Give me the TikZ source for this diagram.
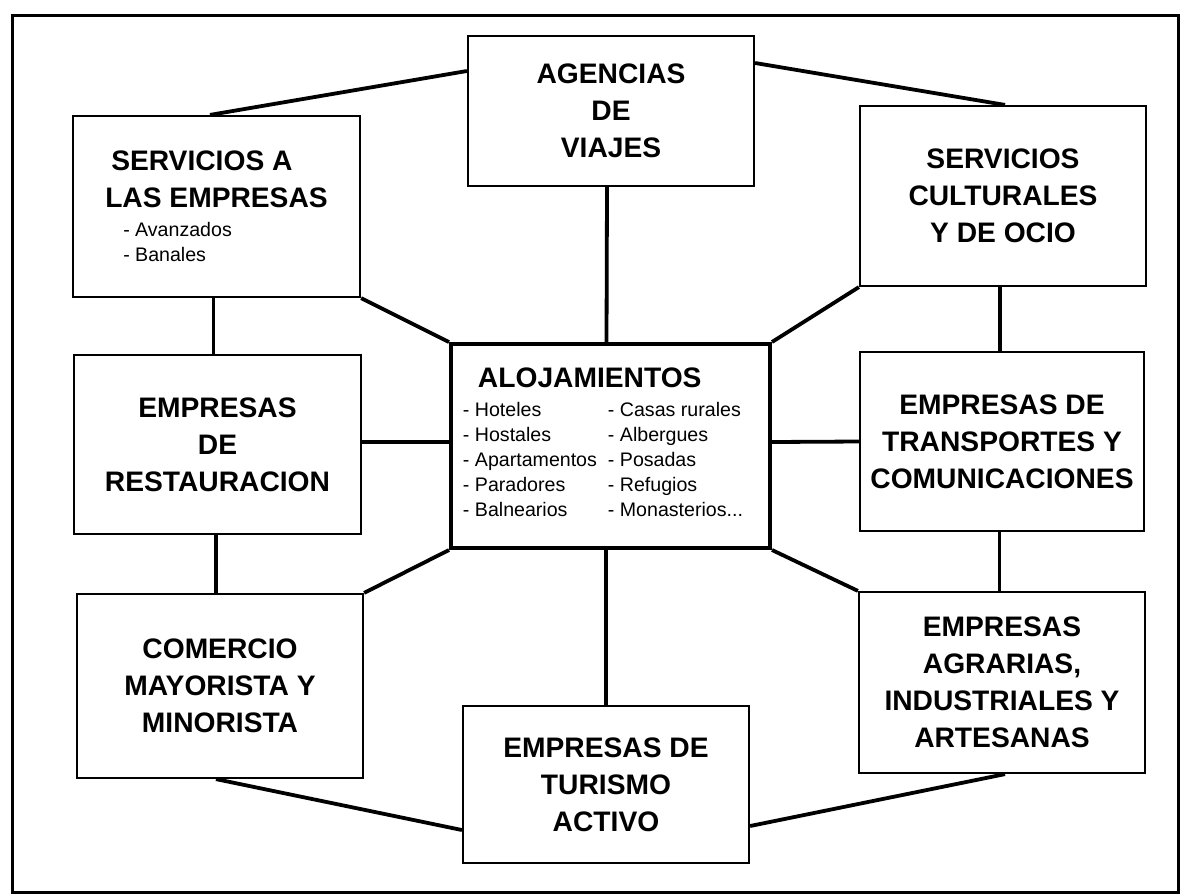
\documentclass[tikz,border=0pt]{standalone}
\usepackage{fontspec}
\setmainfont{Liberation Sans}
\usepackage{tikz}
\usetikzlibrary{calc}

\newcommand{\itemfont}{\mdseries\fontsize{9.8}{12.5}\selectfont}

\begin{document}
\begin{tikzpicture}[x=0.5pt,y=-0.5pt,
  box/.style={draw,line width=1.1pt,inner sep=0pt,align=center,font=\bfseries\fontsize{14.1}{18.5}\selectfont},
  link/.style={line width=1.9pt}]
\useasboundingbox (0,0) rectangle (1182,895);
\draw [line width=1.5pt] (12,15) rectangle (1178,892);

\node[box,minimum width=143pt,minimum height=75pt] (av) at (611,111) {AGENCIAS\\DE\\VIAJES};
\node[box,align=left,minimum width=143.5pt,minimum height=90.5pt] (se) at (216.5,206.5) {\hspace*{3pt}SERVICIOS A\\LAS EMPRESAS\\[-4pt]\hspace*{9pt}{\itemfont - Avanzados}\\[-6pt]\hspace*{9pt}{\itemfont - Banales}};
\node[box,minimum width=143pt,minimum height=90pt] (sc) at (1003,196) {SERVICIOS\\CULTURALES\\Y DE OCIO};
\node[box,minimum width=143.5pt,minimum height=89.5pt] (er) at (217.5,444.5) {EMPRESAS\\DE\\RESTAURACION};
\node[box,align=left,line width=2pt,minimum width=159.5pt,minimum height=102pt] (al) at (610.5,446) {\hspace*{7.5pt}ALOJAMIENTOS\\[-4pt]{\itemfont\begin{tabular}[t]{@{}p{72.5pt}@{}l@{\hspace{7.5pt}}}
- Hoteles & - Casas rurales\\
- Hostales & - Albergues\\
- Apartamentos & - Posadas\\
- Paradores & - Refugios\\
- Balnearios & - Monasterios...
\end{tabular}}};
\node[box,minimum width=142pt,minimum height=89.5pt] (et) at (1002,441.5) {EMPRESAS DE\\TRANSPORTES Y\\COMUNICACIONES};
\node[box,minimum width=143pt,minimum height=92pt] (co) at (220,686) {COMERCIO\\MAYORISTA Y\\MINORISTA};
\node[box,minimum width=143pt,minimum height=90.5pt] (ea) at (1002,682.5) {EMPRESAS\\AGRARIAS,\\INDUSTRIALES Y\\ARTESANAS};
\node[box,minimum width=143pt,minimum height=78.5pt] (ta) at (606,784.5) {EMPRESAS DE\\TURISMO\\ACTIVO};

\draw[link] ([xshift=-3.25pt]se.north) -- ([yshift=20pt]av.west);
\draw[link] ([yshift=24pt]av.east) -- ([xshift=1pt]sc.north);
\draw[link] ([xshift=-2pt]av.south) -- ([xshift=-2pt]al.north);
\draw[link] (se.south east) -- (al.north west);
\draw[link] (sc.south west) -- (al.north east);
\draw[link] ([xshift=-1.5pt]se.south) -- ([xshift=-2pt]er.north);
\draw[link] ([yshift=1.25pt]er.east) -- ([yshift=2pt]al.west);
\draw[link] ([yshift=2pt]al.east) -- (et.west);
\draw[link] ([xshift=-1.5pt]sc.south) -- ([xshift=-1pt]et.north);
\draw[link] ([xshift=-1.25pt]et.south) -- ([xshift=-1.25pt]ea.north);
\draw[link] (al.south east) -- (ea.north west);
\draw[link] (al.south west) -- (co.north east);
\draw[link] ([xshift=-2.25pt]al.south) -- (ta.north);
\draw[link] ([xshift=-0.75pt]er.south) -- ([xshift=-2pt]co.north);
\draw[link] ([xshift=-2pt]co.south) -- ([yshift=-22.75pt]ta.west);
\draw[link] ([xshift=1.5pt]ea.south) -- ([yshift=-20.75pt]ta.east);
\end{tikzpicture}
\end{document}
